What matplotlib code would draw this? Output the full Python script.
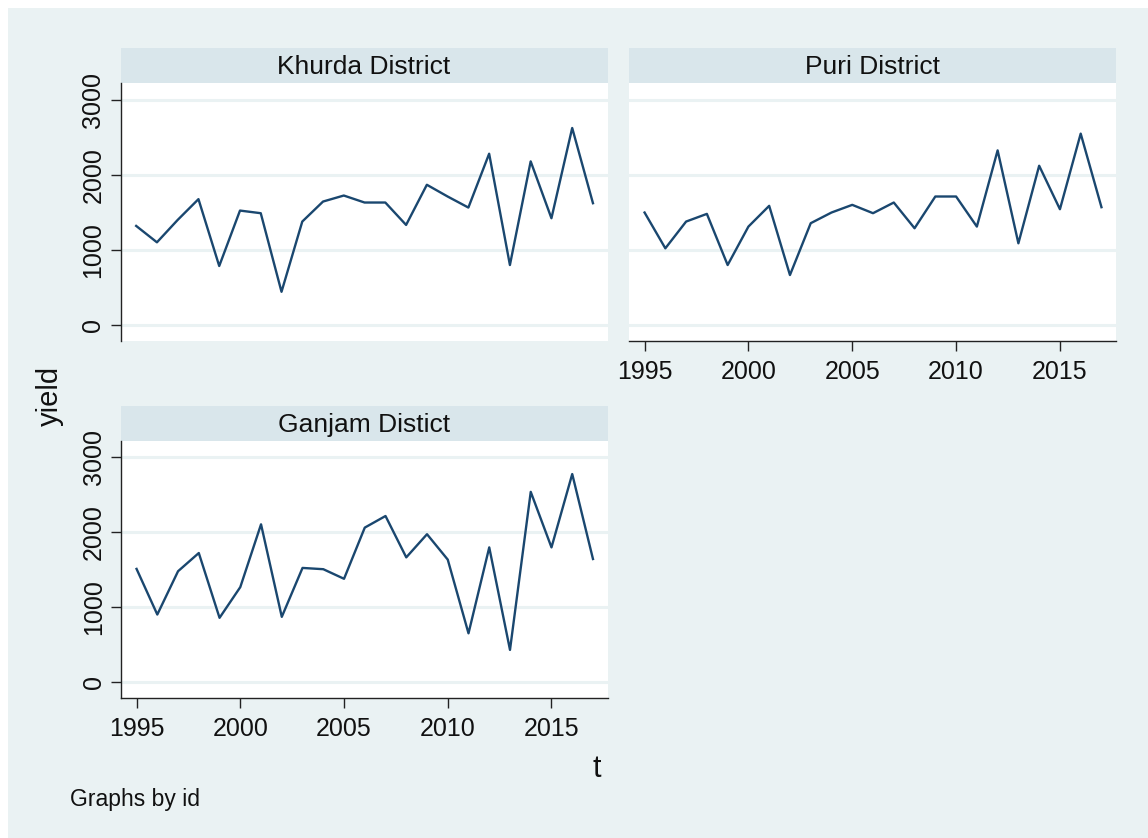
import matplotlib
matplotlib.use("Agg")
import matplotlib.pyplot as plt
from matplotlib.patches import Rectangle

plt.rcParams['font.family'] = ['Liberation Sans', 'DejaVu Sans']

years = list(range(1995, 2018))
khurda = [1320, 1102, 1400, 1676, 787, 1524, 1489, 444, 1378, 1644, 1724, 1631,
          1631, 1333, 1867, 1711, 1564, 2280, 800, 2178, 1422, 2622, 1622]
puri = [1498, 1022, 1378, 1480, 800, 1311, 1587, 667, 1356, 1498, 1600, 1489,
        1631, 1289, 1711, 1711, 1311, 2324, 1089, 2120, 1542, 2547, 1569]
ganjam = [1513, 904, 1482, 1725, 860, 1270, 2108, 873, 1526, 1509, 1381, 2064,
          2219, 1667, 1976, 1637, 653, 1800, 432, 2541, 1800, 2779, 1645]
titles = ["Khurda District", "Puri District", "Ganjam Distict"]
yticks = [0, 1000, 2000, 3000]
xticks = [1995, 2000, 2005, 2010, 2015]

BG = "#EAF2F3"
STRIP = "#D9E6EB"
LINE = "#1A476F"
W, H = 1148, 838

fig = plt.figure(figsize=(W / 100, H / 100), dpi=100, facecolor="white")
fig.patches.append(Rectangle((8 / W, 0), 1 - 8 / W, 1 - 8 / H, transform=fig.transFigure,
                             facecolor=BG, edgecolor="none", zorder=-10))


def px_axes(x0, x1, y0, y1):
    return fig.add_axes([x0 / W, 1 - y1 / H, (x1 - x0) / W, (y1 - y0) / H])


def strip(x0, x1, y0, y1, text):
    ax = px_axes(x0, x1, y0, y1)
    ax.set_facecolor(STRIP)
    for s in ax.spines.values():
        s.set_visible(False)
    ax.set_xticks([])
    ax.set_yticks([])
    ax.text(0.5, 0.47, text, ha="center", va="center", fontsize=19, color="#111111",
            transform=ax.transAxes)


panels = [
    # (data, title, x0, x1, ytop, ybot, strip_top, show_y, show_x)
    (khurda, titles[0], 120.6, 607.5, 83, 341, 48, True, False),
    (puri, titles[1], 629, 1116, 83, 341, 48, False, True),
    (ganjam, titles[2], 121, 607.5, 441, 698, 406, True, True),
]

for data, title, x0, x1, yt, yb, st, show_y, show_x in panels:
    strip(x0, x1, st, yt, title)
    ax = px_axes(x0, x1, yt, yb)
    ax.set_facecolor("white")
    ax.plot(years, data, color=LINE, lw=1.7, zorder=3)
    ax.set_xlim(1994.25, 2017.7)
    ax.set_ylim(-210, 3220)
    for v in yticks:
        ax.axhline(v, color=BG, lw=2.2, zorder=1)
    for s in ["top", "right"]:
        ax.spines[s].set_visible(False)
    ax.spines["left"].set_visible(show_y)
    ax.spines["bottom"].set_visible(show_x)
    ax.spines["left"].set_color("#222222")
    ax.spines["bottom"].set_color("#222222")
    ax.spines["left"].set_linewidth(1.0)
    ax.spines["bottom"].set_linewidth(1.0)
    if show_y:
        ax.set_yticks(yticks)
        ax.set_yticklabels([str(v) for v in yticks], rotation=90, va="center",
                           fontsize=18, color="#111111")
        ax.tick_params(axis="y", length=7, width=1.0, color="#222222", pad=4)
    else:
        ax.set_yticks([])
    if show_x:
        ax.set_xticks(xticks)
        ax.set_xticklabels([str(v) for v in xticks], fontsize=18, color="#111111")
        ax.tick_params(axis="x", length=7, width=1.0, color="#222222", pad=7)
    else:
        ax.set_xticks([])

fig.text(50 / W, 1 - 396 / H, "yield", rotation=90, ha="center", va="center",
         fontsize=21, color="#111111")
fig.text(597 / W, 1 - 769 / H, "t", ha="center", va="center", fontsize=22, color="#111111")
fig.text(70 / W, 1 - 799 / H, "Graphs by id", ha="left", va="center", fontsize=16.5,
         color="#111111")

fig.savefig("out.png", dpi=100, facecolor="white")
